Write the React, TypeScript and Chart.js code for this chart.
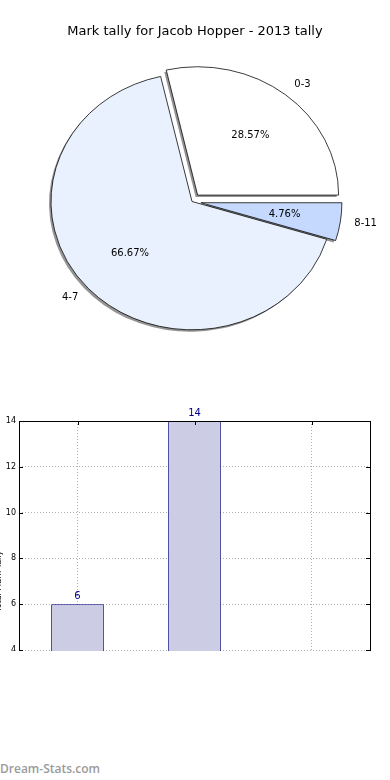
import React, { useEffect, useRef } from "react";
import { Chart, registerables } from "chart.js";

Chart.register(...registerables);
Chart.defaults.font.family = '"DejaVu Sans", sans-serif';

const chartTitle = "Mark tally for Jacob Hopper - 2013 tally";
const categories = ["0-3", "4-7", "8-11"];
const tallies = [6, 14, 1];
const pieColors = ["#ffffff", "#eaf1fe", "#c4d9fd"];
const explodePx = [9, 0, 9];
const yTickStep = 2;
const yMin = 0;
const yMax = 14;
const yAxisTitle = "Total Mark Tally";
const watermark = "Dream-Stats.com";

const ELLIPSE = 0.91;
const PIE_DX = -3;
const SHADOW_DX = -2;
const SHADOW_DY = 2;
const SHADOW_COLOR = "rgba(60,60,60,0.55)";

const piePlugin = {
  id: "pieLook",
  beforeDatasetsDraw(chart: any) {
    const arc = chart.getDatasetMeta(0).data[0];
    if (!arc) return;
    const ctx = chart.ctx;
    ctx.save();
    ctx.translate(PIE_DX, 0);
    ctx.translate(arc.x, arc.y);
    ctx.scale(1, -ELLIPSE);
    ctx.translate(-arc.x, -arc.y);
  },
  beforeDatasetDraw(chart: any, args: any) {
    const ctx = chart.ctx;
    const meta = chart.getDatasetMeta(args.index);
    // shadows under every wedge
    meta.data.forEach((arc: any, i: number) => {
      const mid = (arc.startAngle + arc.endAngle) / 2;
      const e = explodePx[i] || 0;
      ctx.save();
      ctx.translate(Math.cos(mid) * e + SHADOW_DX, Math.sin(mid) * e - SHADOW_DY / ELLIPSE);
      ctx.beginPath();
      ctx.moveTo(arc.x, arc.y);
      ctx.arc(arc.x, arc.y, arc.outerRadius, arc.startAngle, arc.endAngle);
      ctx.closePath();
      ctx.fillStyle = SHADOW_COLOR;
      ctx.fill();
      ctx.restore();
    });
    // wedges
    meta.data.forEach((arc: any, i: number) => {
      const mid = (arc.startAngle + arc.endAngle) / 2;
      const e = explodePx[i] || 0;
      ctx.save();
      ctx.translate(Math.cos(mid) * e, Math.sin(mid) * e);
      arc.draw(ctx);
      ctx.restore();
    });
    return false;
  },
  afterDatasetsDraw(chart: any) {
    const ctx = chart.ctx;
    ctx.restore();
    const meta = chart.getDatasetMeta(0);
    const total = tallies.reduce((a, b) => a + b, 0);
    ctx.save();
    ctx.fillStyle = "#000";
    ctx.font = '10px "DejaVu Sans"';
    ctx.textBaseline = "middle";
    meta.data.forEach((arc: any, i: number) => {
      const mid = (arc.startAngle + arc.endAngle) / 2;
      const R = arc.outerRadius;
      const e = explodePx[i] || 0;
      const c = Math.cos(mid);
      const s = Math.sin(mid);
      const cx = arc.x + PIE_DX;
      const lx = cx + (e + 1.1 * R) * c;
      const ly = arc.y - (e + 1.1 * R) * s * ELLIPSE;
      ctx.textAlign = c >= 0 ? "left" : "right";
      ctx.fillText(categories[i], lx, ly);
      const px = cx + (e + 0.6 * R) * c;
      const py = arc.y - (e + 0.6 * R) * s * ELLIPSE;
      ctx.textAlign = "center";
      ctx.fillText(((tallies[i] / total) * 100).toFixed(2) + "%", px, py);
    });
    ctx.restore();
  },
};

const framePlugin = {
  id: "frame",
  afterDraw(chart: any) {
    const { ctx, chartArea } = chart;
    const { left, top, right, bottom } = chartArea;
    ctx.save();
    ctx.strokeStyle = "#000";
    ctx.lineWidth = 1;
    ctx.strokeRect(Math.round(left) + 0.5, Math.round(top) + 0.5, Math.round(right - left), Math.round(bottom - top));
    const ys = chart.scales.y;
    ctx.beginPath();
    ys.ticks.forEach((t: any) => {
      const py = Math.round(ys.getPixelForValue(t.value)) + 0.5;
      ctx.moveTo(left, py);
      ctx.lineTo(left + 4, py);
      ctx.moveTo(right, py);
      ctx.lineTo(right - 4, py);
    });
    const xs = chart.scales.x;
    xs.ticks.forEach((_t: any, i: number) => {
      const px = Math.round(xs.getPixelForTick(i)) + 0.5;
      ctx.moveTo(px, top);
      ctx.lineTo(px, top + 4);
    });
    ctx.stroke();
    ctx.restore();
  },
};

const barLabelPlugin = {
  id: "barLabels",
  afterDatasetsDraw(chart: any) {
    const ctx = chart.ctx;
    const meta = chart.getDatasetMeta(0);
    ctx.save();
    ctx.fillStyle = "#00008b";
    ctx.font = '10px "DejaVu Sans"';
    ctx.textAlign = "center";
    ctx.textBaseline = "bottom";
    meta.data.forEach((bar: any, i: number) => {
      ctx.fillText(String(tallies[i]), bar.x, bar.y - 3);
    });
    ctx.restore();
  },
};

export default function App() {
  const pieRef = useRef<HTMLCanvasElement>(null);
  const barRef = useRef<HTMLCanvasElement>(null);

  useEffect(() => {
    const pie = new Chart(pieRef.current as HTMLCanvasElement, {
      type: "pie",
      data: {
        labels: categories,
        datasets: [
          {
            data: tallies,
            backgroundColor: pieColors,
            borderColor: "#000",
            borderWidth: 0.8,
            borderJoinStyle: "miter",
            radius: 141,
            clip: false,
          } as any,
        ],
      },
      options: {
        responsive: false,
        animation: false,
        rotation: 90,
        layout: { padding: { left: 0, right: 0, top: 0, bottom: 46.6 } },
        plugins: {
          legend: { display: false },
          tooltip: { enabled: false },
          title: {
            display: true,
            text: chartTitle,
            color: "#000",
            font: { family: '"DejaVu Sans"', size: 13, weight: "normal" },
            padding: { top: 24, bottom: 10 },
          },
        },
      } as any,
      plugins: [piePlugin],
    });

    const bar = new Chart(barRef.current as HTMLCanvasElement, {
      type: "bar",
      data: {
        labels: categories,
        datasets: [
          {
            data: tallies,
            backgroundColor: "#ccccE4",
            borderColor: "#000080",
            borderWidth: 1,
            barPercentage: 0.45,
            categoryPercentage: 1,
            borderSkipped: false,
          },
        ],
      },
      options: {
        responsive: false,
        animation: false,
        layout: { padding: { top: 26, right: 20, bottom: 13.4, left: 0 } },
        plugins: {
          legend: { display: false },
          tooltip: { enabled: false },
          title: { display: false },
        },
        scales: {
          x: {
            offset: true,
            grid: { offset: false, color: "#b0b0b0", drawTicks: false },
            border: { display: false, dash: [1, 2] },
            ticks: { display: false },
          },
          y: {
            min: yMin,
            max: yMax,
            ticks: {
              stepSize: yTickStep,
              color: "#000",
              padding: 3,
              font: { family: '"DejaVu Sans"', size: 8 },
            },
            grid: { color: "#b0b0b0", drawTicks: false },
            border: { display: false, dash: [1, 2] },
            title: {
              display: true,
              text: yAxisTitle,
              color: "#000",
              padding: 4,
              font: { family: '"DejaVu Sans"', size: 8 },
            },
            afterFit: (s: any) => {
              s.width = 29;
            },
          },
        },
      } as any,
      plugins: [framePlugin, barLabelPlugin],
    });

    return () => {
      pie.destroy();
      bar.destroy();
    };
  }, []);

  return (
    <div
      style={{
        position: "absolute",
        left: 0,
        top: 0,
        width: 390,
        height: 780,
        background: "#fff",
        overflow: "hidden",
      }}
    >
      <canvas
        ref={pieRef}
        width={390}
        height={400}
        style={{ position: "absolute", left: 0, top: 0, width: 390, height: 400 }}
      />
      <div
        style={{
          position: "absolute",
          left: 0,
          top: 395,
          width: 390,
          height: 256,
          overflow: "hidden",
        }}
      >
        <canvas
          ref={barRef}
          width={400}
          height={360}
          style={{ position: "absolute", left: -10, top: 0, width: 400, height: 360 }}
        />
      </div>
      <div
        style={{
          position: "absolute",
          left: 0,
          top: 761,
          fontFamily: '"Open Sans", sans-serif',
          fontWeight: 600,
          fontSize: 12,
          lineHeight: "16px",
          color: "#9a9a9a",
          whiteSpace: "nowrap",
        }}
      >
        {watermark}
      </div>
    </div>
  );
}
